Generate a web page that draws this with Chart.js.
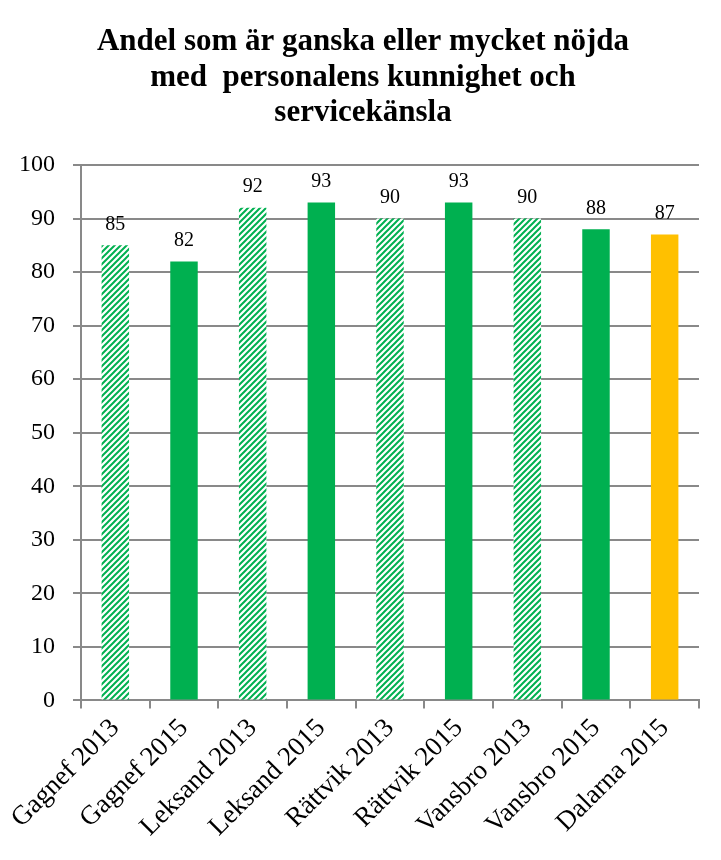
<!DOCTYPE html>
<html>
<head>
<meta charset="utf-8">
<script src="https://cdn.jsdelivr.net/npm/chart.js@4.4.1/dist/chart.umd.min.js"></script>
<style>
    html, body { margin: 0; padding: 0; background: #fff; }
    #wrap { width: 721px; height: 860px; }
</style>
</head>
<body>
<div id="wrap"><canvas id="myChart" width="721" height="860"></canvas></div>
<script>
const categories = ['Gagnef 2013', 'Gagnef 2015', 'Leksand 2013', 'Leksand 2015', 'Rättvik 2013',
    'Rättvik 2015', 'Vansbro 2013', 'Vansbro 2015', 'Dalarna 2015'];
const values = [85, 82, 92, 93, 90, 93, 90, 88, 87];
const hatched = [true, false, true, false, true, false, true, false, false];
const titleLines = ['Andel som är ganska eller mycket nöjda', 'med  personalens kunnighet och', 'servicekänsla'];

const green = '#00B050';
const yellow = '#FFC000';
const gridGray = '#898989';
const serif = "'Liberation Serif', 'DejaVu Serif', serif";

function makeHatch() {
    const c = document.createElement('canvas');
    c.width = 6;
    c.height = 6;
    const g = c.getContext('2d');
    g.fillStyle = '#fff';
    g.fillRect(0, 0, 6, 6);
    g.strokeStyle = green;
    g.lineWidth = 2;
    g.beginPath();
    g.moveTo(-1, 7); g.lineTo(7, -1);
    g.moveTo(-4, 4); g.lineTo(4, -4);
    g.moveTo(2, 10); g.lineTo(10, 2);
    g.stroke();
    return g.createPattern(c, 'repeat');
}

const ctx = document.getElementById('myChart').getContext('2d');
const hatch = makeHatch();
const colors = categories.map((c, i) => i === categories.length - 1 ? yellow : (hatched[i] ? hatch : green));

// title drawn by hand so it can sit a bit right of the canvas centre, like the original
const titleText = {
    id: 'titleText',
    afterDraw(chart) {
        const c = chart.ctx;
        c.save();
        c.fillStyle = '#000';
        c.font = 'bold 31px ' + serif;
        c.textAlign = 'center';
        c.textBaseline = 'middle';
        titleLines.forEach((line, i) => {
            c.fillText(line, 363, 42 + i * 35.6);
        });
        c.restore();
    }
};

const valueLabels = {
    id: 'valueLabels',
    afterDatasetsDraw(chart) {
        const c = chart.ctx;
        const meta = chart.getDatasetMeta(0);
        c.save();
        c.fillStyle = '#000';
        c.font = '20px ' + serif;
        c.textAlign = 'center';
        c.textBaseline = 'bottom';
        meta.data.forEach((bar, i) => {
            c.fillText(values[i], bar.x, bar.y - 11);
        });
        c.restore();
    }
};

const myChart = new Chart(ctx, {
    type: 'bar',
    data: {
        labels: categories,
        datasets: [{
            data: values,
            backgroundColor: colors,
            borderWidth: 0,
            barPercentage: 0.4,
            categoryPercentage: 1
        }]
    },
    options: {
        responsive: false,
        animation: false,
        layout: { padding: { left: 1, right: 22, top: 165, bottom: 13 } },
        plugins: {
            legend: { display: false },
            tooltip: { enabled: false },
            title: { display: false }
        },
        scales: {
            y: {
                min: 0,
                max: 100,
                ticks: { stepSize: 10, color: '#000', font: { family: serif, size: 24 }, padding: 18 },
                grid: { color: gridGray, lineWidth: 2, tickLength: 8 },
                border: { color: gridGray, width: 2 }
            },
            x: {
                ticks: { color: '#000', font: { family: serif, size: 27 }, minRotation: 45, maxRotation: 45, padding: 4 },
                grid: { color: gridGray, lineWidth: 2, drawOnChartArea: false, tickLength: 8, offset: true },
                border: { color: gridGray, width: 2 }
            }
        }
    },
    plugins: [valueLabels, titleText]
});
</script>
</body>
</html>
